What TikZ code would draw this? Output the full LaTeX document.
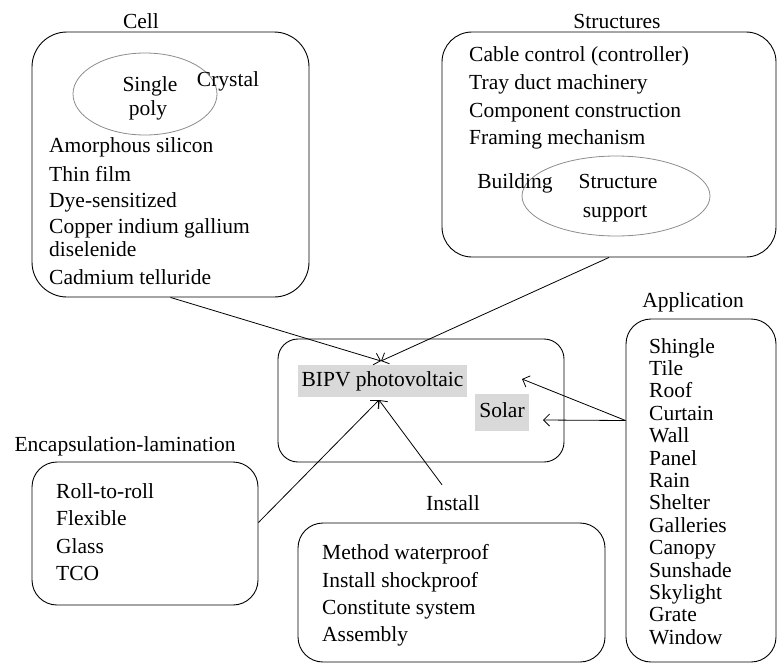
\documentclass[tikz,border=0pt]{standalone}
\usepackage{fontspec}
\setmainfont{Liberation Serif}
\usepackage{tikz}
\usetikzlibrary{arrows.meta,positioning,shapes.geometric,calc}
\definecolor{LabelGray}{RGB}{217,217,217}
\definecolor{RingGray}{RGB}{140,140,140}

\begin{document}
\begin{tikzpicture}[
  x=1pt, y=-1pt,
  group/.style={
    draw,
    rounded corners=25pt,
    line width=0.9pt
  },
  ring/.style={
    draw=RingGray,
    ellipse,
    line width=0.8pt
  },
  title/.style={inner sep=0pt, text height=14pt, text depth=4pt},
  item/.style={anchor=west, inner sep=0pt, text height=14pt, text depth=4pt},
  tag/.style={fill=LabelGray, inner sep=0pt, text height=14pt, text depth=4pt},
  arr/.style={-{Straight Barb[length=6pt,width=12pt]}, line width=0.8pt},
  font=\fontsize{21.5}{25}\selectfont
]
\useasboundingbox (0,0) rectangle (778,664);

% boxes
\node[group, rounded corners=35pt, minimum width=277pt, minimum height=265pt] (cell) at (170.5,164.5) {};
\node[group, rounded corners=30pt, minimum width=334pt, minimum height=225pt] (structures) at (609,144.5) {};
\node[group, rounded corners=20pt, minimum width=286pt, minimum height=123pt] (bipv) at (421,400.5) {};
\node[group, minimum width=226pt, minimum height=143pt] (enc) at (145,533.5) {};
\node[group, minimum width=307pt, minimum height=139pt] (install) at (451.5,592.5) {};
\node[group, minimum width=150pt, minimum height=343pt] (app) at (701,490.5) {};

% titles
\node[title] (celltitle) at (141,23) {Cell};
\node[title] (structtitle) at (617,23) {Structures};
\node[title] (apptitle) at (693,302) {Application};
\node[title] (enctitle) at (125,446) {Encapsulation-lamination};
\node[title] (installtitle) at (453,505) {Install};

% cell
\node[ring, minimum width=144pt, minimum height=82pt] (crystalring) at (145,94) {};
\node[title] (single) at (150,86) {Single};
\node[title] (poly) at (148,110) {poly};
\node[title] (crystal) at (228,81) {Crystal};
\node[item] (amorphous) at (49,147) {Amorphous silicon};
\node[item] (thinfilm) at (49,176) {Thin film};
\node[item] (dye) at (49,202) {Dye-sensitized};
\node[item] (copper) at (49,228) {Copper indium gallium};
\node[item] (diselenide) at (49,251) {diselenide};
\node[item] (cadmium) at (49,279) {Cadmium telluride};

% structures
\node[ring, minimum width=188pt, minimum height=80pt] (supportring) at (616,196) {};
\node[item] (cable) at (469,56) {Cable control (controller)};
\node[item] (tray) at (469,84) {Tray duct machinery};
\node[item] (component) at (469,112) {Component construction};
\node[item] (framing) at (469,139) {Framing mechanism};
\node[title] (building) at (515,183) {Building};
\node[title] (structure) at (618,183) {Structure};
\node[title] (support) at (615,212) {support};

% center
\node[tag, minimum width=169pt, minimum height=32pt] (bipvtag) at (382.5,381) {BIPV photovoltaic};
\node[tag, minimum width=54pt, minimum height=37pt] (solartag) at (502,412.5) {Solar};

% encapsulation
\node[item] (roll) at (56,493) {Roll-to-roll};
\node[item] (flexible) at (56,520) {Flexible};
\node[item] (glass) at (56,548) {Glass};
\node[item] (tco) at (56,575) {TCO};

% install
\node[item] (waterproof) at (322,554) {Method waterproof};
\node[item] (shockproof) at (322,582) {Install shockproof};
\node[item] (constitute) at (322,609) {Constitute system};
\node[item] (assembly) at (322,636) {Assembly};

% application
\foreach \txt [count=\i] in {Shingle,Tile,Roof,Curtain,Wall,Panel,Rain,Shelter,Galleries,Canopy,Sunshade,Skylight,Grate,Window}
  \node[item] (app\i) at (649,{348+22.4*(\i-1)}) {\txt};

% connectors
\coordinate (bipvin) at (381,361);
\coordinate (bipvlow) at (379,400);
\coordinate (appin) at (522,379);
\coordinate (solarin) at (543,420);
\draw[arr] (cell.south) -- (bipvin);
\draw[arr] (structures.south) -- (bipvin);
\draw[arr] ([yshift=11pt]enc.east) -- (bipvlow);
\draw[arr] ([shift={(-11pt,11pt)}]installtitle.north) -- (bipvlow);
\draw[arr] ([yshift=70pt]app.west) -- (appin);
\draw[arr] ([yshift=70pt]app.west) -- (solarin);
\end{tikzpicture}
\end{document}
